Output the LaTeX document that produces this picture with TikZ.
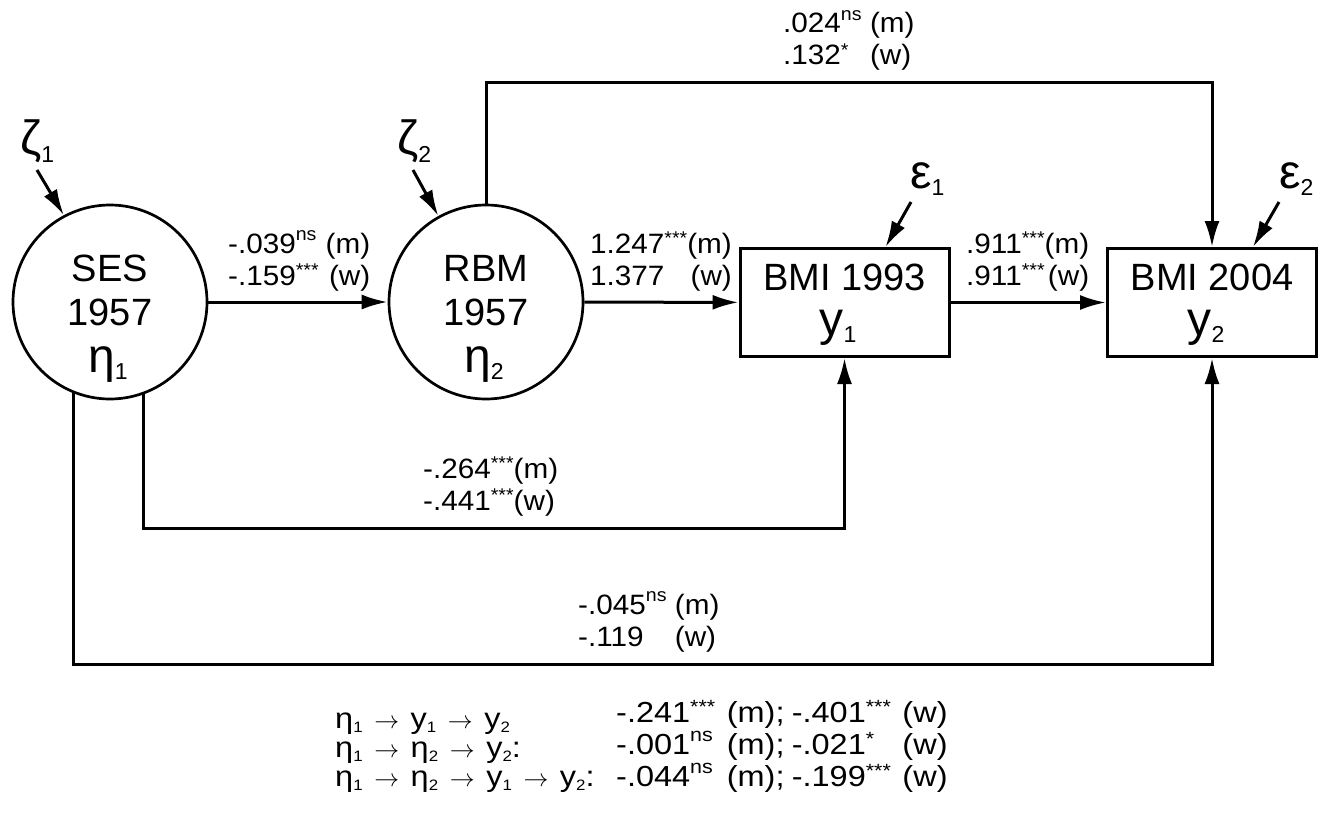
\documentclass[tikz,border=0pt]{standalone}
\usepackage{fontspec}
\setmainfont{Liberation Sans}
\newfontfamily\labfont[FakeStretch=1.06]{Liberation Sans}
\newfontfamily\efffont[FakeStretch=1.12]{Liberation Sans}
\usepackage{graphicx}
\usetikzlibrary{arrows.meta,calc}
\newcommand\fsz[2]{\fontsize{#1pt}{#2pt}\selectfont}
\newcommand\lo[1]{\raisebox{-0.16em}{\scalebox{0.48}{#1}}}
\newcommand\slo[1]{\raisebox{-0.14em}{\scalebox{0.52}{#1}}}
\newcommand\ar{\hspace{0.4em}\ensuremath{\rightarrow}\hspace{0.4em}}
\newcommand\sups[2]{\raisebox{#1}{\scalebox{0.66}{#2}}}
\newcommand\ns{\sups{0.44em}{ns}}
\newcommand\st[1]{\sups{0.3em}{#1}}
\tikzset{
  ln/.style={line width=3pt},
  arr/.style={ln,-{Latex[length=26pt,width=15pt]}},
  latent/.style={circle,draw,line width=2.7pt,minimum size=194pt,inner sep=0pt},
  obs/.style={rectangle,draw,ln,minimum width=209pt,minimum height=108pt,inner sep=0pt},
  ntext/.style={font=\fsz{38}{42},inner sep=0pt,anchor=base},
  big/.style={font=\fsz{48}{50},inner sep=0pt,anchor=base},
  greek/.style={font=\fsz{48}{50},inner sep=0pt,anchor=base west},
  lab/.style={font=\labfont\fsz{28}{32},inner sep=0pt,anchor=base west},
  eff/.style={font=\efffont\fsz{29}{29},inner sep=0pt,anchor=base west},
}
\begin{document}
\begin{tikzpicture}[x=1pt,y=-1pt]
\useasboundingbox (0,0) rectangle (1329,813);
% latent and observed variables
\node[latent] (ses) at (110,302) {};
\node[latent] (rbm) at (486,302) {};
\node[obs] (bmi1) at (844.5,302.5) {};
\node[obs] (bmi2) at (1212,302.5) {};
% texts inside
\node[ntext] (ses1) at (110,281) {SES};
\node[ntext] (ses2) at (110,325) {1957};
\node[big] (ses3) at (108,372) {η\lo{1}};
\node[ntext] (rbm1) at (486,281) {RBM};
\node[ntext] (rbm2) at (486,325) {1957};
\node[big] (rbm3) at (484,372) {η\lo{2}};
\node[ntext] (b1t) at (844.5,290) {BMI 1993};
\node[big] (b1y) at (838,335) {y\lo{1}};
\node[ntext] (b2t) at (1212,290) {BMI 2004};
\node[big] (b2y) at (1206,335) {y\lo{2}};
% disturbances and errors
\node[greek] (z1) at (20,155) {ζ\lo{1}};
\node[greek] (z2) at (397,155) {ζ\lo{2}};
\node[greek] (e1) at (910,188) {ε\lo{1}};
\node[greek] (e2) at (1279,188) {ε\lo{2}};
\coordinate (z1s) at (37,170);
\coordinate (z2s) at (413,170);
\coordinate (e1s) at (911,202);
\coordinate (e2s) at (1279,202);
\draw[arr] (z1s) -- (ses.118);
\draw[arr] (z2s) -- (rbm.119);
\draw[arr] (e1s) -- ($(bmi1.north west)+(147,0)$);
\draw[arr] (e2s) -- ($(bmi2.north west)+(147,0)$);
% paths
\draw[arr] (ses) -- (rbm);
\draw[arr] (rbm) -- (bmi1);
\draw[arr] (bmi1) -- (bmi2);
\coordinate (ctop) at (1212,83);
\draw[arr] (rbm.north) |- (ctop) -- (bmi2.north);
\coordinate (cmid) at (844.5,528);
\draw[arr] (ses.-70) |- (cmid) -- (bmi1.south);
\coordinate (cbot) at (1212,664);
\draw[arr] (ses.-112) |- (cbot) -- (bmi2.south);
% path labels
\node[lab] (l1) at (228,285) {\begin{tabular}[b]{@{}l@{\hspace{0.25em}}r@{}}-.039\ns & (m)\\ -.159\st{***} & (w)\end{tabular}};
\node[lab] (l2) at (590,285) {\begin{tabular}[b]{@{}l@{}r@{}}1.247\st{***} & (m)\\ 1.377 & (w)\end{tabular}};
\node[lab] (l3) at (966,285) {\begin{tabular}[b]{@{}l@{}r@{}}.911\st{***} & (m)\\ .911\st{***} & (w)\end{tabular}};
\node[lab] (l4) at (783,65) {\begin{tabular}[b]{@{}l@{\hspace{0.3em}}l@{}}.024\ns & (m)\\ .132\st{*} & (w)\end{tabular}};
\node[lab] (l5) at (423,510) {\begin{tabular}[b]{@{}l@{}l@{}}-.264\st{***} & (m)\\ -.441\st{***} & (w)\end{tabular}};
\node[lab] (l6) at (578,646) {\begin{tabular}[b]{@{}l@{\hspace{0.3em}}l@{}}-.045\ns & (m)\\ -.119 & (w)\end{tabular}};
% indirect effects
\node[eff] (effpath) at (335,786) {\begin{tabular}[b]{@{}l@{}}
η\slo{1}\ar y\slo{1}\ar y\slo{2}\\
η\slo{1}\ar η\slo{2}\ar y\slo{2}:\\
η\slo{1}\ar η\slo{2}\ar y\slo{1}\ar y\slo{2}:
\end{tabular}};
\node[eff] (effval) at (616,786) {\begin{tabular}[b]{@{}l@{\hspace{0.4em}}l@{\hspace{0.25em}}l@{\hspace{0.4em}}l@{}}
-.241\st{***} & (m); & -.401\st{***} & (w)\\
-.001\ns & (m); & -.021\st{*} & (w)\\
-.044\ns & (m); & -.199\st{***} & (w)
\end{tabular}};
\end{tikzpicture}
\end{document}
